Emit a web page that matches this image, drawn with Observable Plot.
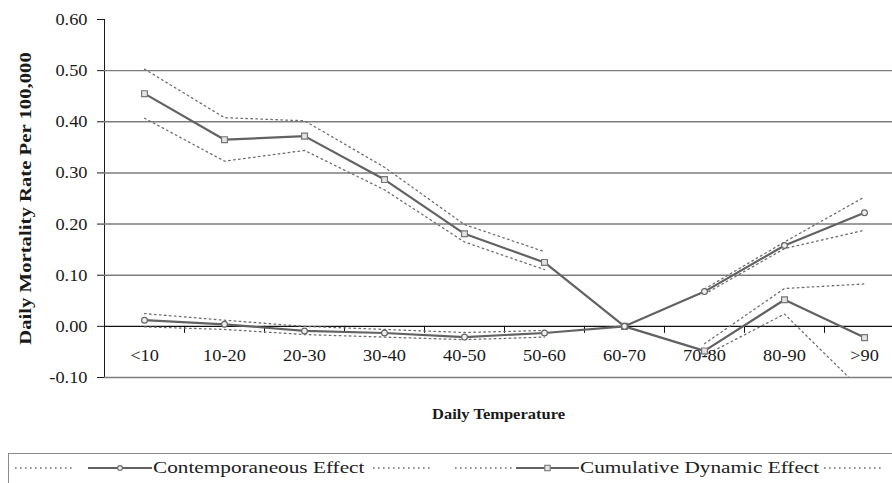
<!DOCTYPE html>
<html>
<head>
<meta charset="utf-8">
<script src="https://cdn.jsdelivr.net/npm/d3@7"></script>
<script src="https://cdn.jsdelivr.net/npm/@observablehq/plot@0.6"></script>
<style>
  html, body { margin: 0; padding: 0; background: #fff; overflow: hidden; width: 892px; height: 483px; }
  #chart { position: absolute; left: 0; top: 0; }
  #legend { position: absolute; left: 8px; top: 453px; width: 900px; height: 40px; border: 1.5px solid #8a8a8a;
            box-sizing: border-box; font-family: "Liberation Serif", serif; font-size: 17px; color: #222; }
  #legend .sw { position: absolute; top: 8px; }
  #legend .lab { position: absolute; top: 4px; line-height: 20px; white-space: nowrap; transform-origin: left center; }
</style>
</head>
<body>
<div id="chart"></div>
<div id="legend"></div>
<script>
// ---- data ----
const categories = ["<10", "10-20", "20-30", "30-40", "40-50", "50-60", "60-70", "70-80", "80-90", ">90"];
const contemporaneous      = [0.012, 0.004, -0.009, -0.013, -0.021, -0.013, 0.000, 0.068, 0.158, 0.222];
const contemporaneousUpper = [0.025, 0.012, 0.000, -0.006, -0.012, -0.008, NaN, 0.073, 0.165, 0.253];
const contemporaneousLower = [-0.001, -0.006, -0.016, -0.021, -0.026, -0.021, NaN, 0.063, 0.152, 0.188];
const cumulative      = [0.455, 0.365, 0.372, 0.287, 0.181, 0.125, 0.000, -0.048, 0.052, -0.022];
const cumulativeUpper = [0.503, 0.408, 0.402, 0.311, 0.199, 0.146, NaN, -0.034, 0.074, 0.083];
const cumulativeLower = [0.407, 0.323, 0.344, 0.267, 0.165, 0.111, NaN, -0.057, 0.024, -0.130];
const yTicks = [-0.1, 0, 0.1, 0.2, 0.3, 0.4, 0.5, 0.6];
const gridValues = [-0.1, 0.1, 0.2, 0.3, 0.4, 0.5];
const seriesNames = ["Contemporaneous Effect", "Cumulative Dynamic Effect"];
const xTitle = "Daily Temperature";
const yTitle = "Daily Mortality Rate Per 100,000";

const rows = categories.map((c, i) => ({
  cat: c,
  con: contemporaneous[i], conU: contemporaneousUpper[i], conL: contemporaneousLower[i],
  cum: cumulative[i], cumU: cumulativeUpper[i], cumL: cumulativeLower[i]
}));

const lineColor = "#626262";
const dotted = {stroke: "#6e6e6e", strokeWidth: 1.3, strokeDasharray: "1.6,3.4", clip: true};

const chart = Plot.plot({
  width: 892, height: 445,
  marginLeft: 104, marginRight: 0, marginTop: 19, marginBottom: 68,
  style: {fontFamily: "Liberation Serif, serif", fontSize: "17px", color: "#1a1a1a", background: "white"},
  x: {type: "point", domain: categories, range: [104, 904], padding: 0.5, axis: null},
  y: {domain: [-0.1, 0.6], ticks: yTicks, tickFormat: d => d.toFixed(2), tickSize: 7, tickPadding: 10, label: null, line: true},
  marks: [
    Plot.ruleY(gridValues, {stroke: "#7d7d7d", strokeWidth: 1.4}),
    Plot.ruleY([0], {stroke: "#111", strokeWidth: 1.1}),
    Plot.ruleX(categories.slice(0, -1), {dx: 40, y1: 0, y2: -0.0137, stroke: "#111", strokeWidth: 1}),
    Plot.line(rows, {x: "cat", y: "conU", ...dotted}),
    Plot.line(rows, {x: "cat", y: "conL", ...dotted}),
    Plot.line(rows, {x: "cat", y: "cumU", ...dotted}),
    Plot.line(rows, {x: "cat", y: "cumL", ...dotted}),
    Plot.line(rows, {x: "cat", y: "cum", stroke: lineColor, strokeWidth: 2.2}),
    Plot.dot(rows, {x: "cat", y: "cum", symbol: "square", r: 3.3, fill: "#e4e4e4", stroke: "#777", strokeWidth: 1.2}),
    Plot.line(rows, {x: "cat", y: "con", stroke: lineColor, strokeWidth: 2.2}),
    Plot.dot(rows, {x: "cat", y: "con", r: 2.9, fill: "#f0f0f0", stroke: "#666", strokeWidth: 1.2}),
    // text marks (in this order: category labels, y title, x title)
    Plot.text(categories, {x: d => d, text: d => d, frameAnchor: "bottom", dy: -17}),
    Plot.text([yTitle], {frameAnchor: "left", textAnchor: "middle", dx: -79, dy: 0, rotate: -90, fontWeight: "bold"}),
    Plot.text([xTitle], {frameAnchor: "bottom", dy: 41, fontWeight: "bold", fontSize: 15})
  ]
});
document.getElementById("chart").appendChild(chart);

// widen the serif glyphs along their baseline to match the wide face of the original
function stretchNodes(nodes, s) {
  nodes.forEach(t => {
    const tr = t.getAttribute("transform");
    if (tr) t.setAttribute("transform", tr + ` scale(${s},1)`);
    else {
      const x = +t.getAttribute("x") || 0, y = +t.getAttribute("y") || 0;
      t.removeAttribute("x"); t.removeAttribute("y");
      t.setAttribute("transform", `translate(${x},${y}) scale(${s},1)`);
    }
  });
}
stretchNodes(chart.querySelectorAll('g[aria-label^="y-axis"] text'), 1.08);
const textGroups = chart.querySelectorAll('g[aria-label="text"]');
const stretchFactors = [1.08, 1.22, 1.1];
textGroups.forEach((g, i) => stretchNodes(g.querySelectorAll("text"), stretchFactors[i] || 1));

// ---- legend ----
const legend = document.getElementById("legend");
const ns = "http://www.w3.org/2000/svg";
function swatch(left, width, kind) {
  const svg = document.createElementNS(ns, "svg");
  svg.setAttribute("width", width); svg.setAttribute("height", 12);
  svg.setAttribute("class", "sw"); svg.style.left = left + "px";
  const ln = document.createElementNS(ns, "line");
  ln.setAttribute("x1", 0); ln.setAttribute("x2", width); ln.setAttribute("y1", 6); ln.setAttribute("y2", 6);
  if (kind === "dotted") {
    ln.setAttribute("stroke", dotted.stroke); ln.setAttribute("stroke-width", 1.3); ln.setAttribute("stroke-dasharray", dotted.strokeDasharray);
    svg.appendChild(ln);
  } else {
    ln.setAttribute("stroke", lineColor); ln.setAttribute("stroke-width", 2.2);
    svg.appendChild(ln);
    let m;
    if (kind === "circle") {
      m = document.createElementNS(ns, "circle");
      m.setAttribute("cx", width / 2); m.setAttribute("cy", 6); m.setAttribute("r", 2.4);
      m.setAttribute("fill", "#f0f0f0"); m.setAttribute("stroke", "#666");
    } else {
      m = document.createElementNS(ns, "rect");
      m.setAttribute("x", width / 2 - 2.7); m.setAttribute("y", 3.3); m.setAttribute("width", 5.4); m.setAttribute("height", 5.4);
      m.setAttribute("fill", "#e4e4e4"); m.setAttribute("stroke", "#777");
    }
    m.setAttribute("stroke-width", 1.1);
    svg.appendChild(m);
  }
  legend.appendChild(svg);
}
function label(left, text) {
  const s = document.createElement("span");
  s.className = "lab"; s.textContent = text; s.style.left = left + "px";
  s.style.transform = "scaleX(1.25)";
  legend.appendChild(s);
}
const off = 9.5;
swatch(15 - off, 57, "dotted");
swatch(88 - off, 64, "circle");
label(153 - off, seriesNames[0]);
swatch(373 - off, 57, "dotted");
swatch(455 - off, 57, "dotted");
swatch(516 - off, 63, "square");
label(580 - off, seriesNames[1]);
swatch(824 - off, 58, "dotted");
</script>
</body>
</html>
